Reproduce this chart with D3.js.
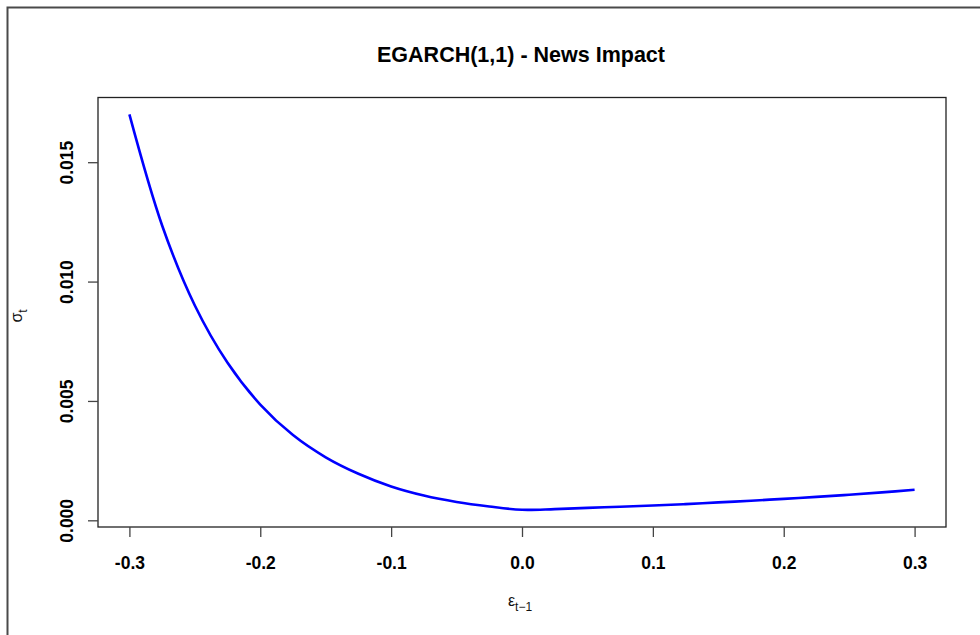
<!DOCTYPE html>
<html>
<head>
<meta charset="utf-8">
<script src="https://cdn.jsdelivr.net/npm/d3@7"></script>
<style>
  html, body { margin: 0; padding: 0; background: #fff; }
  svg { display: block; }
  text { font-family: "Liberation Sans", Arial, sans-serif; }
</style>
</head>
<body>
<svg id="chart" width="980" height="635"></svg>
<script>
// ---- data ----
const epsilon = [-0.300, -0.275, -0.250, -0.225, -0.200, -0.175, -0.150, -0.125, -0.100, -0.075,
                 -0.050, -0.025, 0.000, 0.025, 0.050, 0.075, 0.100, 0.125, 0.150, 0.175,
                 0.200, 0.225, 0.250, 0.275, 0.300];
const sigma = [0.01700, 0.01235, 0.00900, 0.00660, 0.00485, 0.00357, 0.00264, 0.00195, 0.00142, 0.00104,
               0.00077, 0.00058, 0.00044, 0.00047, 0.00052, 0.00057, 0.00062, 0.00068, 0.00075, 0.00082,
               0.00090, 0.00098, 0.00107, 0.00117, 0.00128];
const xTicks = [-0.3, -0.2, -0.1, 0.0, 0.1, 0.2, 0.3];
const yTicks = [0.000, 0.005, 0.010, 0.015];
const title = "EGARCH(1,1) - News Impact";

const svg = d3.select("#chart");

// outer frame (window border)
svg.append("path")
  .attr("d", "M7.5,635 L7.5,7.5 L980,7.5")
  .attr("fill", "none").attr("stroke", "#4a4a4a").attr("stroke-width", 2);

const x = d3.scaleLinear().domain([-0.324, 0.324]).range([98, 946]);
const y = d3.scaleLinear().domain([-0.00028, 0.01771]).range([527, 97.5]);

// plot box
svg.append("rect")
  .attr("x", 98).attr("y", 97.5).attr("width", 848).attr("height", 429.5)
  .attr("fill", "none").attr("stroke", "#222").attr("stroke-width", 1.3);

const fx = d => d3.format(".1f")(d).replace("\u2212", "-");

// x axis
const xAxis = d3.axisBottom(x).tickValues(xTicks).tickSize(10).tickPadding(20)
  .tickFormat(fx);
const gx = svg.append("g").attr("transform", "translate(0,527)").call(xAxis);
gx.select(".domain").remove();
gx.selectAll(".tick line").attr("stroke", "#444").attr("stroke-width", 1.3);
gx.selectAll(".tick text").attr("font-size", 17.5).attr("font-weight", "bold")
  .attr("fill", "#000").attr("font-family", "Liberation Sans, Arial, sans-serif")
  .attr("dy", "0.71em");

// y axis
const yAxis = d3.axisLeft(y).tickValues(yTicks).tickSize(10)
  .tickFormat(d3.format(".3f"));
const gy = svg.append("g").attr("transform", "translate(98,0)").call(yAxis);
gy.select(".domain").remove();
gy.selectAll(".tick line").attr("stroke", "#444").attr("stroke-width", 1.3);
gy.selectAll(".tick text")
  .attr("font-size", 17.5).attr("font-weight", "bold").attr("fill", "#000")
  .attr("font-family", "Liberation Sans, Arial, sans-serif")
  .attr("x", 0).attr("dy", 0)
  .attr("text-anchor", "middle")
  .attr("transform", "translate(-25.5,0) rotate(-90)");

// curve
const pts = epsilon.map((e, i) => [e, sigma[i]]);
svg.append("path")
  .datum(pts)
  .attr("fill", "none")
  .attr("stroke", "#0000ff")
  .attr("stroke-width", 2.6)
  .attr("d", d3.line().x(d => x(d[0])).y(d => y(d[1])).curve(d3.curveCatmullRom.alpha(0.5)));

// title
svg.append("text")
  .attr("x", 521).attr("y", 62)
  .attr("text-anchor", "middle")
  .attr("font-size", 21.5).attr("font-weight", "bold").attr("fill", "#000")
  .text(title);

// x label  ε_{t−1}
const xl = svg.append("text")
  .attr("x", 520).attr("y", 606)
  .attr("text-anchor", "middle")
  .attr("font-size", 16).attr("fill", "#111");
xl.append("tspan").text("ε");
xl.append("tspan").attr("font-size", 12).attr("dy", 5).text("t−1");

// y label σ_t (rotated)
const yl = svg.append("text")
  .attr("transform", "translate(22,316) rotate(-90)")
  .attr("text-anchor", "middle")
  .attr("font-size", 16).attr("fill", "#111");
yl.append("tspan").text("σ");
yl.append("tspan").attr("font-size", 12).attr("dy", 5).text("t");
</script>
</body>
</html>
